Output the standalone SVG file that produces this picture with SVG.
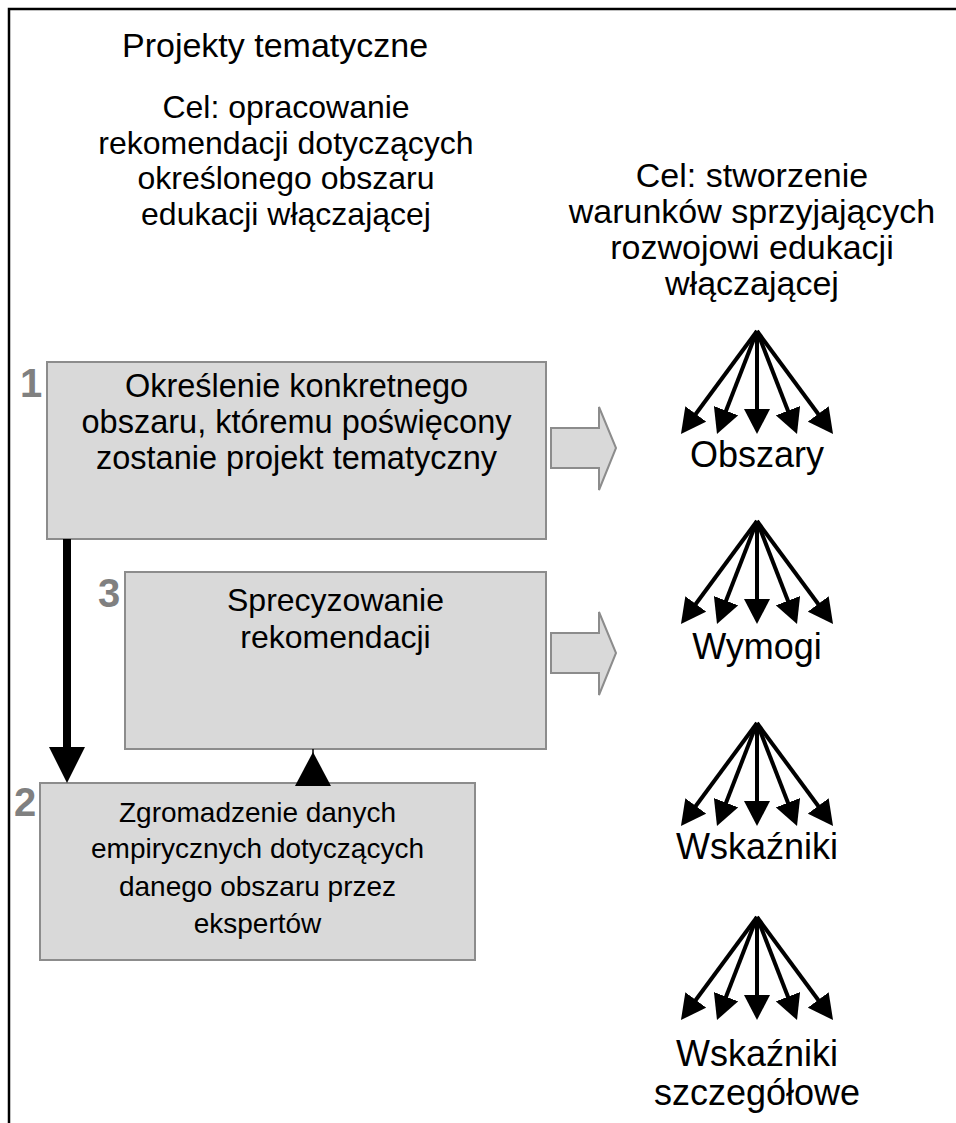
<svg xmlns="http://www.w3.org/2000/svg" width="956" height="1123" viewBox="0 0 956 1123">
<style>
text{font-family:"Liberation Sans",Arial,sans-serif;fill:#000;text-anchor:middle}
.title{font-size:34px;text-anchor:start}
.goal{font-size:32px}
.goalr{font-size:34px}
.b1{font-size:32.5px}
.b3{font-size:32px}
.b2{font-size:28px}
.lbl{font-size:36px}
.num{font-size:40px;font-weight:bold;fill:#808080;text-anchor:start}
.box{fill:#d9d9d9;stroke:#8c8c8c;stroke-width:2}
.fan{stroke:#000;stroke-width:4;fill:none;marker-end:url(#fh)}
.blk{fill:#d9d9d9;stroke:#8c8c8c;stroke-width:2}
</style>
<defs>
<marker id="fh" viewBox="0 0 25 26" refX="15" refY="13" markerWidth="25" markerHeight="26" markerUnits="userSpaceOnUse" orient="auto"><path d="M0,0 L25,13 L0,26 z" fill="#000"/></marker>
<marker id="bh" viewBox="0 0 36 36" refX="3" refY="18" markerWidth="36" markerHeight="36" markerUnits="userSpaceOnUse" orient="auto"><path d="M0,0 L36,18 L0,36 z" fill="#000"/></marker>
<g id="fanshape">
<line class="fan" x1="757" y1="0" x2="686.9" y2="95"/>
<line class="fan" x1="757" y1="0" x2="720.6" y2="93.7"/>
<line class="fan" x1="757" y1="0" x2="757" y2="93"/>
<line class="fan" x1="757" y1="0" x2="793.4" y2="93.7"/>
<line class="fan" x1="757" y1="0" x2="827.1" y2="95"/>
</g>
</defs>
<path d="M9,1123 V9 H956" fill="none" stroke="#000" stroke-width="2.5"/>
<g id="header">
<text class="title" x="122" y="57">Projekty tematyczne</text>
<text class="goal" x="286" y="118">Cel: opracowanie</text>
<text class="goal" x="286" y="154">rekomendacji dotyczących</text>
<text class="goal" x="286" y="189">określonego obszaru</text>
<text class="goal" x="286" y="225">edukacji włączającej</text>
<text class="goalr" x="752" y="187">Cel: stworzenie</text>
<text class="goalr" x="752" y="223">warunków sprzyjających</text>
<text class="goalr" x="752" y="259">rozwojowi edukacji</text>
<text class="goalr" x="752" y="295">włączającej</text>
</g>
<g id="step1">
<rect class="box" x="47" y="362" width="499" height="177"/>
<text class="num" x="20" y="397">1</text>
<text class="b1" x="296.5" y="397">Określenie konkretnego</text>
<text class="b1" x="296.5" y="433">obszaru, któremu poświęcony</text>
<text class="b1" x="296.5" y="469">zostanie projekt tematyczny</text>
</g>
<g id="step3">
<rect class="box" x="125" y="572" width="421" height="177"/>
<text class="num" x="98" y="607">3</text>
<text class="b3" x="335.5" y="611">Sprecyzowanie</text>
<text class="b3" x="335.5" y="648">rekomendacji</text>
</g>
<g id="step2">
<rect class="box" x="40" y="783" width="435" height="177"/>
<text class="num" x="14" y="816">2</text>
<text class="b2" x="257.5" y="822">Zgromadzenie danych</text>
<text class="b2" x="257.5" y="858">empirycznych dotyczących</text>
<text class="b2" x="257.5" y="896">danego obszaru przez</text>
<text class="b2" x="257.5" y="933">ekspertów</text>
</g>
<g id="obszary">
<use href="#fanshape" transform="translate(0,331)"/>
<text class="lbl" x="757" y="467">Obszary</text>
</g>
<g id="wymogi">
<use href="#fanshape" transform="translate(0,521)"/>
<text class="lbl" x="757" y="659">Wymogi</text>
</g>
<g id="wskazniki">
<use href="#fanshape" transform="translate(0,723)"/>
<text class="lbl" x="757" y="859">Wskaźniki</text>
</g>
<g id="wskazniki-szczegolowe">
<use href="#fanshape" transform="translate(0,917)"/>
<text class="lbl" x="757" y="1066">Wskaźniki</text>
<text class="lbl" x="757" y="1105">szczegółowe</text>
</g>
<g id="connectors">
<polygon class="blk" points="551,428 599,428 599,407 616,448 599,490 599,468 551,468"/>
<polygon class="blk" points="551,633 599,633 599,612 616,653 599,695 599,673 551,673"/>
<line x1="67" y1="539" x2="67" y2="750" stroke="#000" stroke-width="8" marker-end="url(#bh)"/>
<line x1="313" y1="786" x2="313" y2="749" stroke="#000" stroke-width="1.5"/>
<polygon points="295,786 331,786 313,752" fill="#000"/>
</g>
</svg>
